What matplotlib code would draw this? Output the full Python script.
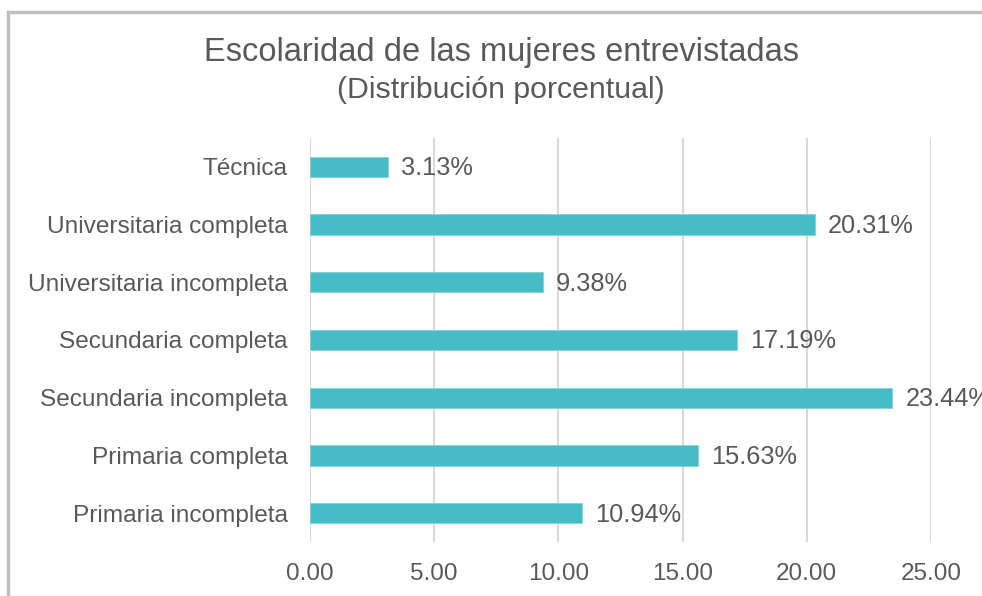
import matplotlib
matplotlib.use("Agg")
import matplotlib.pyplot as plt
from matplotlib.patches import Rectangle

categories = ["Primaria incompleta", "Primaria completa", "Secundaria incompleta",
              "Secundaria completa", "Universitaria incompleta", "Universitaria completa",
              "Técnica"]
values = [10.94, 15.63, 23.44, 17.19, 9.38, 20.31, 3.13]
xticks = [0, 5, 10, 15, 20, 25]
title1 = "Escolaridad de las mujeres entrevistadas"
title2 = "(Distribución porcentual)"

plt.rcParams['font.family'] = ['Liberation Sans', 'DejaVu Sans']
W, H = 982, 596
fig = plt.figure(figsize=(W / 100, H / 100), dpi=100)
fig.patch.set_facecolor("white")

# outer gray frame
fig.patches.append(Rectangle((7.5 / W, -0.1), 1.2, 1 - 11.5 / H + 0.1,
                             transform=fig.transFigure, fill=False,
                             edgecolor="#BFBFBF", linewidth=2.5))

ax = fig.add_axes([310 / W, 1 - 542 / H, (931 - 310) / W, (542 - 138) / H])
txt = "#595959"
ax.barh(range(len(categories)), values, height=0.35, color="#46BDC6",
        edgecolor="#7FD3D9", linewidth=0.6, zorder=3)
ax.set_xlim(0, 25)
ax.set_ylim(-0.5, len(categories) - 0.5)
ax.set_yticks(range(len(categories)))
ax.set_yticklabels(categories, fontsize=17.6, color=txt)
ax.set_xticks(xticks)
ax.set_xticklabels([f"{t:.2f}" for t in xticks], fontsize=17.5, color=txt)
ax.tick_params(axis="both", length=0)
ax.tick_params(axis="y", pad=16)
ax.tick_params(axis="x", pad=15)
ax.grid(axis="x", color="#D9D9D9", linewidth=1.5, zorder=0)
for s in ax.spines.values():
    s.set_visible(False)

for i, v in enumerate(values):
    ax.annotate(f"{v:.2f}%", (v, i), xytext=(9.5, -1), textcoords="offset points",
                va="center", ha="left", fontsize=18.3, color=txt, annotation_clip=False)

fig.text(501 / W, 1 - 53 / H, title1, ha="center", va="center", fontsize=23.5, color=txt)
fig.text(501 / W, 1 - 90 / H, title2, ha="center", va="center", fontsize=21.8, color=txt)

fig.savefig("out.png", dpi=100)
